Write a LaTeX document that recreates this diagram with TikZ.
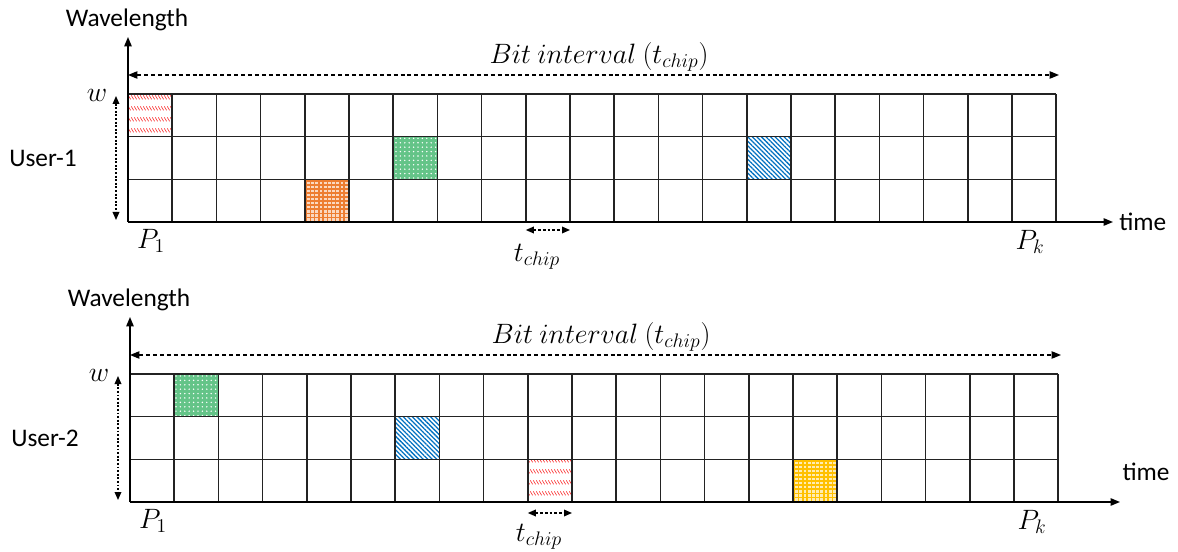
\RequirePackage{fix-cm}
\documentclass[tikz,border=0pt]{standalone}
\usepackage{fontspec}
\setmainfont{Carlito}
\usetikzlibrary{arrows.meta,patterns.meta}

\definecolor{gridline}{RGB}{35,35,35}
\definecolor{chipred}{RGB}{250,55,55}
\definecolor{chiporange}{RGB}{237,125,49}
\definecolor{chipgreen}{RGB}{100,196,136}
\definecolor{chipblue}{RGB}{0,112,192}
\definecolor{chipyellow}{RGB}{255,192,0}

% rows of short back-slash ticks
\tikzdeclarepattern{
  name=Ticks, type=uncolored,
  bounding box={(0,0) and (2.55pt,8pt)},
  tile size={(2.55pt,8pt)},
  code={\draw[line width=0.55pt] (0.25pt,5.8pt) -- (2.3pt,2.8pt);}
}

\tikzset{
  x=0.75pt, y=-0.75pt,
  lbl/.style={font=\fontsize{19}{23}\selectfont, inner sep=0pt},
  mlbl/.style={font=\fontsize{21}{25}\selectfont, inner sep=0pt},
  cellline/.style={draw=gridline, line width=1.1pt},
  axis/.style={draw=black, line width=1.1pt, -{Triangle[length=7pt,width=5.5pt]}},
  span/.style={draw=black, line width=0.9pt, dash pattern=on 3pt off 2.2pt,
    {Triangle[length=7pt,width=5.5pt]}-{Triangle[length=7pt,width=5.5pt]}},
  dotspan/.style={draw=black, line width=0.9pt, dash pattern=on 1.4pt off 1.3pt,
    {Triangle[length=6pt,width=5pt]}-{Triangle[length=6pt,width=5pt]}},
  redchip/.style={pattern=Ticks, pattern color=chipred},
  greenchip/.style={fill=chipgreen, postaction={pattern={Dots[distance=3.3pt,radius=0.6pt]}, pattern color=white}},
  bluechip/.style={pattern={Lines[angle=-45,distance=2.4pt,line width=0.95pt]}, pattern color=chipblue},
}

\newcommand\cw{44.2}
\newcommand\rh{42.667}
% one filled chip: column, row (0 = top), style
\newcommand\chip[3]{\path[#3] ({#1*\cw},{-128+#2*\rh}) rectangle ({(#1+1)*\cw},{-128+(#2+1)*\rh});}
% one chip with a fine square mesh: column, row, colour
\newcommand\meshchip[3]{%
  \begin{scope}
    \clip ({#1*\cw},{-128+#2*\rh}) rectangle ({(#1+1)*\cw},{-128+(#2+1)*\rh});
    \fill[#3!30] ({#1*\cw},{-128+#2*\rh}) rectangle ({(#1+1)*\cw},{-128+(#2+1)*\rh});
    \draw[draw=#3, line width=1.05pt]
      \foreach \k in {0,...,10} {
        ({#1*\cw+\k*4.2+1.5},{-130+#2*\rh}) -- ++(0,48)
        ({#1*\cw-2},{-128+#2*\rh+\k*4.05+1.5}) -- ++(49,0)
      };
  \end{scope}}

% common parts of one wavelength/time panel: prefix, user label
\newcommand\wtpanel[2]{%
  \foreach \i in {1,...,21} \draw[cellline] ({\i*\cw},0) -- ({\i*\cw},-128);
  \foreach \j in {1,2,3} \draw[cellline] (0,{-\j*\rh}) -- ({21*\cw},{-\j*\rh});
  \coordinate (#1o) at (0,0);
  \coordinate (#1ytip) at (0,-185);
  \draw[axis] (#1o) -- (#1ytip);
  \node[lbl] (#1wl) at (-1,-202) {Wavelength};
  \coordinate (#1bl) at (0,-147);
  \coordinate (#1br) at (931,-147);
  \draw[span] (#1bl) -- (#1br);
  \node[mlbl] (#1bit) at (471,-165) {$Bit\ interval\ (t_{chip})$};
  \node[mlbl] (#1w) at (-31,-127) {$w$};
  \coordinate (#1wt) at (-12,-126);
  \coordinate (#1wb) at (-12,-2);
  \draw[dotspan] (#1wt) -- (#1wb);
  \node[lbl] (#1user) at (-85,-64) {#2};
  \node[mlbl] (#1p1) at (23,19) {$P_1$};
  \node[mlbl] (#1pk) at (902,20) {$P_k$};
  \node[mlbl] (#1tc) at (409,35) {$t_{chip}$};
}

\begin{document}
\begin{tikzpicture}
\useasboundingbox (0,0) rectangle (1178,552);

% ---------- User-1 ----------
\begin{scope}[shift={(128,222)}]
  \meshchip{4}{2}{chiporange}
  \chip{0}{0}{redchip}
  \chip{6}{1}{greenchip}
  \chip{14}{1}{bluechip}
  \wtpanel{a}{User-1}
  \coordinate (axtip) at (985,0);
  \draw[axis] (ao) -- (axtip);
  \node[lbl, anchor=west] (atime) at (991,0) {time};
  \coordinate (acl) at ({9*\cw},8);
  \coordinate (acr) at ({10*\cw},8);
  \draw[dotspan, dash pattern=on 2pt off 1.5pt] (acl) -- (acr);
\end{scope}

% ---------- User-2 ----------
\begin{scope}[shift={(130,502)}]
  \meshchip{15}{2}{chipyellow}
  \chip{1}{0}{greenchip}
  \chip{6}{1}{bluechip}
  \chip{9}{2}{redchip}
  \wtpanel{b}{User-2}
  \coordinate (bxtip) at (990,0);
  \draw[axis] (bo) -- (bxtip);
  \node[lbl] (btime) at (1016,-30) {time};
  \coordinate (bcl) at ({9*\cw},11);
  \coordinate (bcr) at ({10*\cw},11);
  \draw[dotspan, dash pattern=on 2pt off 1.5pt] (bcl) -- (bcr);
\end{scope}
\end{tikzpicture}
\end{document}
